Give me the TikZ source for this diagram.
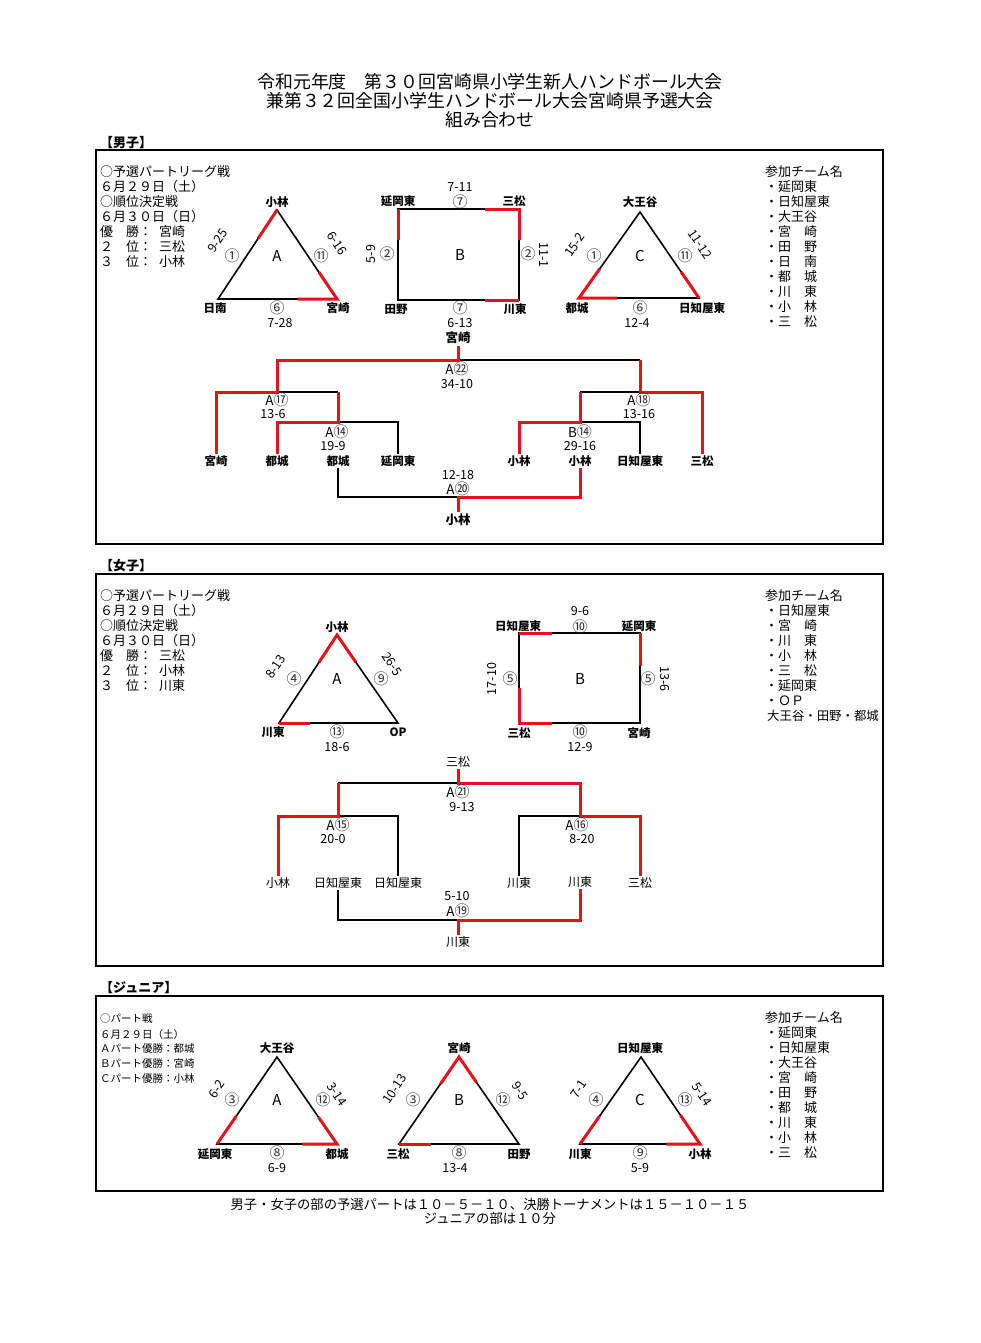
\documentclass[tikz,border=0pt]{standalone}
\usepackage{fontspec}
\setmainfont{Noto Sans CJK JP}
\usetikzlibrary{calc}
\definecolor{rd}{RGB}{228,18,28}
\newcommand{\cnm}[1]{{\fontsize{15}{15}\selectfont\color{black!80}#1}}
\tikzset{
  tm/.style={font=\fontsize{11.5}{13}\selectfont\bfseries,inner sep=1.5pt},
  tmr/.style={font=\fontsize{12}{13}\selectfont,inner sep=1.5pt},
  sc/.style={font=\fontsize{12.5}{13}\selectfont,inner sep=0pt},
  cn/.style={font=\fontsize{15}{15}\selectfont,text=black!80,inner sep=0pt},
  big/.style={font=\fontsize{15}{16}\selectfont,inner sep=0pt},
  mt/.style={font=\fontsize{13.5}{15}\selectfont,inner sep=0pt},
  info/.style={font=\fontsize{13}{15}\selectfont,anchor=west,inner sep=0pt},
  jinfo/.style={font=\fontsize{10.5}{12}\selectfont,anchor=west,inner sep=0pt},
  lst/.style={font=\fontsize{13}{15}\selectfont,anchor=west,inner sep=0pt},
  sec/.style={font=\fontsize{13}{15}\selectfont\bfseries,anchor=west,inner sep=0pt},
  frame/.style={draw=black,line width=1.8pt},
  blk/.style={draw=black,line width=1.6pt},
  redl/.style={draw=rd,line width=3pt},
}
\begin{document}
\begin{tikzpicture}[x=1pt,y=-1pt]
\useasboundingbox (0,0) rectangle (980,1343);
\fill[white] (0,0) rectangle (980,1343);
% title
\node[font=\fontsize{17.9}{19}\selectfont,inner sep=0pt] (t1) at (490,82) {令和元年度　第３０回宮崎県小学生新人ハンドボール大会};
\node[font=\fontsize{17.9}{19}\selectfont,inner sep=0pt] (t2) at (490,101) {兼第３２回全国小学生ハンドボール大会宮崎県予選大会};
\node[font=\fontsize{17.9}{19}\selectfont,inner sep=0pt] (t3) at (490,120) {組み合わせ};
% section frames
\node[sec] (s1) at (100,143) {【男子】};
\node[sec] (s2) at (100,566) {【女子】};
\node[sec] (s3) at (100,988) {【ジュニア】};
\draw[frame] (96,150) rectangle (883,544);
\draw[frame] (96,574) rectangle (883,966);
\draw[frame] (96,996) rectangle (883,1191);
% ===== MEN info
\foreach \t [count=\i] in {○予選パートリーグ戦,６月２９日（土）,○順位決定戦,６月３０日（日）,優　勝：\kern7pt 宮崎,２　位：\kern7pt 三松,３　位：\kern7pt 小林}
  \node[info] (mi\i) at (100,157+15*\i) {\t};
\node[lst] (mlh) at (765,172) {参加チーム名};
\foreach \t [count=\i] in {・延岡東,・日知屋東,・大王谷,・宮　崎,・田　野,・日　南,・都　城,・川　東,・小　林,・三　松}
  \node[lst] (ml\i) at (765,172+15*\i) {\t};
% Men A triangle
\coordinate (mA1) at (277,210); \coordinate (mA2) at (218,299); \coordinate (mA3) at (337,299);
\draw[blk,line join=miter] (mA1)--(mA2)--(mA3)--cycle;
\draw[redl] (mA1)--($(mA1)!0.32!(mA2)$);
\draw[redl] ($(mA3)!0.3!(mA1)$)--(mA3)--($(mA3)!0.33!(mA2)$);
\node[tm] (mAt) at (277,202) {小林};
\node[tm] (mAl) at (215,308) {日南};
\node[tm] (mAr) at (338,308) {宮崎};
\node[big] (mAc) at (277,256) {A};
\node[cn] (mAn1) at (232,256) {①};
\node[cn] (mAn2) at (321,256) {⑪};
\node[cn] (mAn3) at (277,308) {⑥};
\node[sc] (mAs3) at (280,323) {7-28};
\node[sc,rotate=56] (mAs1) at (218,241) {9-25};
\node[sc,rotate=-56] (mAs2) at (337,243) {6-16};
% Men B rectangle
\coordinate (mB1) at (398,209); \coordinate (mB2) at (519,209); \coordinate (mB3) at (519,300); \coordinate (mB4) at (398,300);
\draw[blk] (mB1)--(mB2)--(mB3)--(mB4)--cycle;
\draw[redl] (mB1)--($(mB1)!0.34!(mB4)$);
\draw[redl] ($(mB2)!0.28!(mB1)$)--(mB2)--($(mB2)!0.34!(mB3)$);
\draw[redl] ($(mB3)!0.28!(mB4)$)--(mB3);
\node[tm] (mBtl) at (398,201) {延岡東};
\node[tm] (mBtr) at (514,201) {三松};
\node[tm] (mBbl) at (396,309) {田野};
\node[tm] (mBbr) at (515,309) {川東};
\node[sc] (mBs1) at (460,187) {7-11};
\node[cn] (mBn1) at (460,202) {⑦};
\node[big] (mBc) at (460,255) {B};
\node[cn] (mBn2) at (387,254) {②};
\node[sc,rotate=90] (mBs2) at (371,254) {5-9};
\node[cn] (mBn3) at (528,254) {②};
\node[sc,rotate=-90] (mBs3) at (544,255) {11-1};
\node[cn] (mBn4) at (460,308) {⑦};
\node[sc] (mBs4) at (460,323) {6-13};
% Men C triangle
\coordinate (mC1) at (640,212); \coordinate (mC2) at (579,298); \coordinate (mC3) at (699,298);
\draw[blk,line join=miter] (mC1)--(mC2)--(mC3)--cycle;
\draw[redl] ($(mC2)!0.34!(mC1)$)--(mC2)--($(mC2)!0.32!(mC3)$);
\draw[redl] ($(mC3)!0.3!(mC1)$)--(mC3);
\node[tm] (mCt) at (640,202) {大王谷};
\node[tm] (mCl) at (577,308) {都城};
\node[tm] (mCr) at (702,308) {日知屋東};
\node[big] (mCc) at (640,256) {C};
\node[cn] (mCn1) at (594,256) {①};
\node[cn] (mCn2) at (685,256) {⑪};
\node[cn] (mCn3) at (640,308) {⑥};
\node[sc] (mCs3) at (637,323) {12-4};
\node[sc,rotate=56] (mCs1) at (575,245) {15-2};
\node[sc,rotate=-56] (mCs2) at (700,244) {11-12};
% Men bracket
\node[tm,font=\fontsize{12.5}{13}\selectfont\bfseries] (mch) at (458,338) {宮崎};
\node[tm] (mb1) at (216,461) {宮崎};
\node[tm] (mb2) at (277,461) {都城};
\node[tm] (mb3) at (338,461) {都城};
\node[tm] (mb4) at (398,461) {延岡東};
\node[tm] (mb5) at (519,461) {小林};
\node[tm] (mb6) at (580,461) {小林};
\node[tm] (mb7) at (640,461) {日知屋東};
\node[tm] (mb8) at (702,461) {三松};
\node[tm,font=\fontsize{12.5}{13}\selectfont\bfseries] (mth) at (458,520) {小林};
\coordinate (mj0) at (458,360);
\coordinate (mjL) at (277,392); \coordinate (mjR) at (640,392);
\coordinate (mjLL) at (338,422); \coordinate (mjRR) at (580,422);
\coordinate (mj3) at (458,497);
\draw[blk] (mj0)--(640,360);
\draw[blk] (mjL)--(338,392);
\draw[blk] (mjLL)--(mb4.north |- mjLL)--(mb4.north);
\draw[blk] (580,392)--(mjR);
\draw[blk] (mjRR)--(mb7.north |- mjRR)--(mb7.north);
\draw[blk] (mb3.south)--(mb3.south |- mj3)--(mj3);
\draw[redl] (mch.south)--(mj0)--(277,360)--(mjL)--(mb1.north |- mjL)--(mb1.north);
\draw[redl] (640,360)--(mjR)--(mb8.north |- mjR)--(mb8.north);
\draw[redl] (338,392)--(mjLL)--(mb2.north |- mjLL)--(mb2.north);
\draw[redl] (580,392)--(mjRR)--(mb5.north |- mjRR)--(mb5.north);
\draw[redl] (mth.north)--(mj3)--(mb6.south |- mj3)--(mb6.south);
\node[mt] (mk1) at (457,369) {A\cnm{㉒}};
\node[sc] (mk1s) at (457,384) {34-10};
\node[mt] (mk2) at (277,400) {A\cnm{⑰}};
\node[sc] (mk2s) at (273,414) {13-6};
\node[mt] (mk3) at (337,432) {A\cnm{⑭}};
\node[sc] (mk3s) at (333,446) {19-9};
\node[mt] (mk4) at (639,400) {A\cnm{⑱}};
\node[sc] (mk4s) at (639,414) {13-16};
\node[mt] (mk5) at (580,432) {B\cnm{⑭}};
\node[sc] (mk5s) at (580,446) {29-16};
\node[sc] (mk6s) at (458,475) {12-18};
\node[mt] (mk6) at (458,489) {A\cnm{⑳}};
% ===== WOMEN info
\foreach \t [count=\i] in {○予選パートリーグ戦,６月２９日（土）,○順位決定戦,６月３０日（日）,優　勝：\kern7pt 三松,２　位：\kern7pt 小林,３　位：\kern7pt 川東}
  \node[info] (wi\i) at (100,581+15*\i) {\t};
\node[lst] (wlh) at (765,596) {参加チーム名};
\foreach \t [count=\i] in {・日知屋東,・宮　崎,・川　東,・小　林,・三　松,・延岡東,・ＯＰ}
  \node[lst] (wl\i) at (765,596+15*\i) {\t};
\node[lst,font=\fontsize{12.4}{15}\selectfont] (wlx) at (767,716) {大王谷・田野・都城};
% Women A
\coordinate (wA1) at (337,635); \coordinate (wA2) at (279,723); \coordinate (wA3) at (398,723);
\draw[blk,line join=miter] (wA1)--(wA2)--(wA3)--cycle;
\draw[redl] ($(wA1)!0.31!(wA2)$)--(wA1)--($(wA1)!0.31!(wA3)$);
\draw[redl] (wA2)--($(wA2)!0.26!(wA3)$);
\node[tm] (wAt) at (337,627) {小林};
\node[tm] (wAl) at (273,732) {川東};
\node[tm] (wAr) at (398,732) {OP};
\node[big] (wAc) at (337,679) {A};
\node[cn] (wAn1) at (294,679) {④};
\node[cn] (wAn2) at (381,679) {⑨};
\node[cn] (wAn3) at (337,732) {⑬};
\node[sc] (wAs3) at (337,747) {18-6};
\node[sc,rotate=56] (wAs1) at (276,667) {8-13};
\node[sc,rotate=-56] (wAs2) at (392,664) {26-5};
% Women B
\coordinate (wB1) at (519,633); \coordinate (wB2) at (640,633); \coordinate (wB3) at (640,723); \coordinate (wB4) at (519,723);
\draw[blk] (wB1)--(wB2)--(wB3)--(wB4)--cycle;
\draw[redl] (wB1)--($(wB1)!0.27!(wB2)$);
\draw[redl] (wB2)--($(wB2)!0.37!(wB3)$);
\draw[redl] ($(wB4)!0.39!(wB1)$)--(wB4)--($(wB4)!0.27!(wB3)$);
\node[tm] (wBtl) at (518,626) {日知屋東};
\node[tm] (wBtr) at (639,626) {延岡東};
\node[tm] (wBbl) at (519,733) {三松};
\node[tm] (wBbr) at (639,733) {宮崎};
\node[sc] (wBs1) at (580,611) {9-6};
\node[cn] (wBn1) at (580,627) {⑩};
\node[big] (wBc) at (580,679) {B};
\node[cn] (wBn2) at (510,679) {⑤};
\node[sc,rotate=90] (wBs2) at (492,679) {17-10};
\node[cn] (wBn3) at (648,679) {⑤};
\node[sc,rotate=-90] (wBs3) at (665,679) {13-6};
\node[cn] (wBn4) at (580,732) {⑩};
\node[sc] (wBs4) at (580,747) {12-9};
% Women bracket
\node[tmr] (wch) at (458,762) {三松};
\node[tmr] (wb1) at (278,883) {小林};
\node[tmr] (wb2) at (338,883) {日知屋東};
\node[tmr] (wb3) at (398,883) {日知屋東};
\node[tmr] (wb4) at (519,883) {川東};
\node[tmr] (wb5) at (580,882) {川東};
\node[tmr] (wb6) at (640,883) {三松};
\node[tmr] (wth) at (458,942) {川東};
\coordinate (wj0) at (458,783);
\coordinate (wjL) at (338,816); \coordinate (wjR) at (580,816);
\coordinate (wj3) at (458,920);
\draw[blk] (338,783)--(wj0);
\draw[blk] (wjL)--(wb3.north |- wjL)--(wb3.north);
\draw[blk] (wjR)--(wb4.north |- wjR)--(wb4.north);
\draw[blk] (wb2.south)--(wb2.south |- wj3)--(wj3);
\draw[redl] (wch.south)--(wj0)--(580,783)--(wjR)--(wb6.north |- wjR)--(wb6.north);
\draw[redl] (338,783)--(wjL)--(wb1.north |- wjL)--(wb1.north);
\draw[redl] (wth.north)--(wj3)--(wb5.south |- wj3)--(wb5.south);
\node[mt] (wk1) at (458,792) {A\cnm{㉑}};
\node[sc] (wk1s) at (462,807) {9-13};
\node[mt] (wk2) at (338,825) {A\cnm{⑮}};
\node[sc] (wk2s) at (333,839) {20-0};
\node[mt] (wk3) at (577,825) {A\cnm{⑯}};
\node[sc] (wk3s) at (582,839) {8-20};
\node[sc] (wk4s) at (457,896) {5-10};
\node[mt] (wk4) at (458,911) {A\cnm{⑲}};
% ===== JUNIOR
\foreach \t [count=\i] in {○パート戦,６月２９日（土）,Ａパート優勝：都城,Ｂパート優勝：宮崎,Ｃパート優勝：小林}
  \node[jinfo] (ji\i) at (100,1004+15*\i) {\t};
\node[lst] (jlh) at (765,1018) {参加チーム名};
\foreach \t [count=\i] in {・延岡東,・日知屋東,・大王谷,・宮　崎,・田　野,・都　城,・川　東,・小　林,・三　松}
  \node[lst] (jl\i) at (765,1018+15*\i) {\t};
% Junior A
\coordinate (jA1) at (277,1057); \coordinate (jA2) at (217,1144); \coordinate (jA3) at (337,1144);
\draw[blk,line join=miter] (jA1)--(jA2)--(jA3)--cycle;
\draw[redl] (jA2)--($(jA2)!0.32!(jA1)$);
\draw[redl] ($(jA3)!0.31!(jA1)$)--(jA3)--($(jA3)!0.29!(jA2)$);
\node[tm] (jAt) at (277,1048) {大王谷};
\node[tm] (jAl) at (215,1154) {延岡東};
\node[tm] (jAr) at (337,1154) {都城};
\node[big] (jAc) at (277,1100) {A};
\node[cn] (jAn1) at (232,1100) {③};
\node[cn] (jAn2) at (323,1100) {⑫};
\node[cn] (jAn3) at (277,1153) {⑧};
\node[sc] (jAs3) at (277,1168) {6-9};
\node[sc,rotate=56] (jAs1) at (217,1089) {6-2};
\node[sc,rotate=-56] (jAs2) at (337,1094) {3-14};
% Junior B
\coordinate (jB1) at (459,1057); \coordinate (jB2) at (399,1144); \coordinate (jB3) at (519,1144);
\draw[blk,line join=miter] (jB1)--(jB2)--(jB3)--cycle;
\draw[redl] ($(jB1)!0.31!(jB2)$)--(jB1)--($(jB1)!0.29!(jB3)$);
\draw[redl] (jB2)--($(jB2)!0.27!(jB3)$);
\node[tm] (jBt) at (459,1048) {宮崎};
\node[tm] (jBl) at (398,1154) {三松};
\node[tm] (jBr) at (519,1154) {田野};
\node[big] (jBc) at (459,1100) {B};
\node[cn] (jBn1) at (413,1100) {③};
\node[cn] (jBn2) at (503,1100) {⑫};
\node[cn] (jBn3) at (459,1153) {⑧};
\node[sc] (jBs3) at (455,1168) {13-4};
\node[sc,rotate=56] (jBs1) at (395,1089) {10-13};
\node[sc,rotate=-56] (jBs2) at (520,1091) {9-5};
% Junior C
\coordinate (jC1) at (641,1057); \coordinate (jC2) at (580,1144); \coordinate (jC3) at (700,1144);
\draw[blk,line join=miter] (jC1)--(jC2)--(jC3)--cycle;
\draw[redl] (jC2)--($(jC2)!0.32!(jC1)$);
\draw[redl] ($(jC3)!0.33!(jC1)$)--(jC3)--($(jC3)!0.28!(jC2)$);
\node[tm] (jCt) at (640,1048) {日知屋東};
\node[tm] (jCl) at (580,1154) {川東};
\node[tm] (jCr) at (700,1154) {小林};
\node[big] (jCc) at (640,1100) {C};
\node[cn] (jCn1) at (596,1100) {④};
\node[cn] (jCn2) at (685,1100) {⑬};
\node[cn] (jCn3) at (640,1153) {⑨};
\node[sc] (jCs3) at (640,1168) {5-9};
\node[sc,rotate=56] (jCs1) at (579,1089) {7-1};
\node[sc,rotate=-56] (jCs2) at (702,1094) {5-14};
% footer
\node[font=\fontsize{13.3}{15}\selectfont,inner sep=0pt] (f1) at (490,1204) {男子・女子の部の予選パートは１０－５－１０、決勝トーナメントは１５－１０－１５};
\node[font=\fontsize{13.3}{15}\selectfont,inner sep=0pt] (f2) at (490,1218) {ジュニアの部は１０分};
\end{tikzpicture}
\end{document}
